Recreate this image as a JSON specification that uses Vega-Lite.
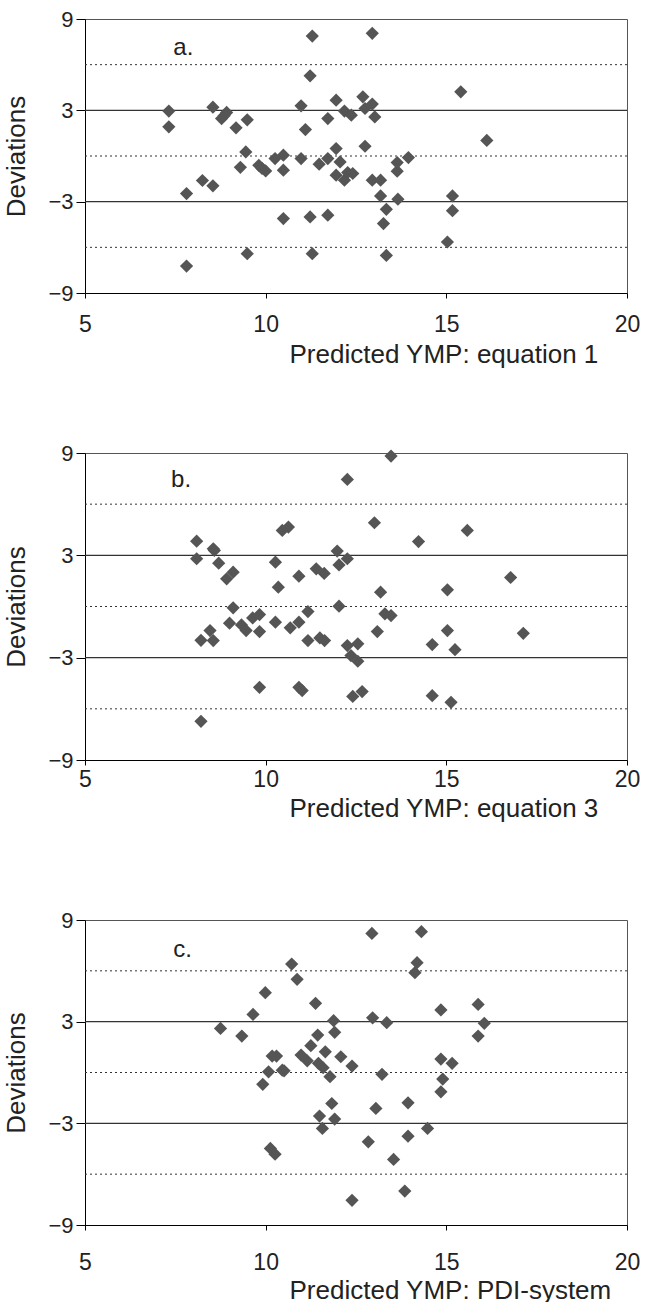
{
  "$schema": "https://vega.github.io/schema/vega-lite/v6.json",
  "padding": {"left": 3, "top": 7, "right": 0, "bottom": 0},
  "config": {
    "font": "Liberation Sans",
    "view": {"stroke": "#555", "strokeWidth": 1},
    "axis": {"grid": false, "domainColor": "#000", "tickColor": "#000", "labelColor": "#222", "titleColor": "#222", "titleFontWeight": "normal"},
    "axisY": {"tickSize": 9, "labelFontSize": 22, "labelPadding": 3, "labelFlush": false, "titleFontSize": 26, "titlePadding": 18},
    "axisX": {"tickSize": 5, "labelFontSize": 23, "labelFlush": false, "titleFontSize": 26, "titleAnchor": "start", "titleAlign": "left", "titleX": 204, "titleBaseline": "middle"}
  },
  "datasets": {
    "a": [
      {"p": 7.32, "d": 2.95}, {"p": 7.32, "d": 1.92}, {"p": 7.81, "d": -2.47}, {"p": 7.81, "d": -7.23},
      {"p": 8.25, "d": -1.61}, {"p": 8.54, "d": 3.21}, {"p": 8.54, "d": -1.96}, {"p": 8.78, "d": 2.46},
      {"p": 8.92, "d": 2.86}, {"p": 8.85, "d": 2.65}, {"p": 9.18, "d": 1.85}, {"p": 9.49, "d": 2.38},
      {"p": 9.45, "d": 0.27}, {"p": 9.30, "d": -0.74}, {"p": 9.49, "d": -6.42}, {"p": 9.81, "d": -0.61},
      {"p": 9.90, "d": -0.82}, {"p": 10.0, "d": -0.98}, {"p": 10.26, "d": -0.17}, {"p": 10.49, "d": 0.05},
      {"p": 10.49, "d": -0.93}, {"p": 10.49, "d": -4.11}, {"p": 10.98, "d": 3.30}, {"p": 10.98, "d": -0.17},
      {"p": 11.10, "d": 1.74}, {"p": 11.23, "d": 5.27}, {"p": 11.29, "d": 7.88}, {"p": 11.23, "d": -4.0},
      {"p": 11.29, "d": -6.42}, {"p": 11.48, "d": -0.54}, {"p": 11.72, "d": 2.46}, {"p": 11.72, "d": -0.17},
      {"p": 11.72, "d": -3.89}, {"p": 11.95, "d": 3.67}, {"p": 11.95, "d": 0.49}, {"p": 11.95, "d": -1.26},
      {"p": 12.06, "d": -0.39}, {"p": 12.18, "d": 2.95}, {"p": 12.18, "d": -1.59}, {"p": 12.27, "d": -1.09},
      {"p": 12.37, "d": 2.68}, {"p": 12.41, "d": -1.15}, {"p": 12.69, "d": 3.89}, {"p": 12.75, "d": 3.12},
      {"p": 12.75, "d": 0.64}, {"p": 12.95, "d": 3.41}, {"p": 12.95, "d": 8.06}, {"p": 12.95, "d": -1.59},
      {"p": 13.02, "d": 2.57}, {"p": 13.18, "d": -1.59}, {"p": 13.18, "d": -2.62}, {"p": 13.34, "d": -3.5},
      {"p": 13.26, "d": -4.44}, {"p": 13.34, "d": -6.53}, {"p": 13.64, "d": -0.43}, {"p": 13.64, "d": -1.0},
      {"p": 13.66, "d": -2.84}, {"p": 13.95, "d": -0.10}, {"p": 15.03, "d": -5.65}, {"p": 15.17, "d": -2.62},
      {"p": 15.17, "d": -3.59}, {"p": 15.4, "d": 4.22}, {"p": 16.12, "d": 1.02}
    ],
    "b": [
      {"p": 8.09, "d": 3.83}, {"p": 8.09, "d": 2.80}, {"p": 8.21, "d": -1.98}, {"p": 8.21, "d": -6.73},
      {"p": 8.46, "d": -1.41}, {"p": 8.55, "d": -2.0}, {"p": 8.55, "d": 3.38}, {"p": 8.58, "d": 3.29},
      {"p": 8.70, "d": 2.54}, {"p": 8.92, "d": 1.62}, {"p": 9.10, "d": 2.01}, {"p": 9.10, "d": -0.08},
      {"p": 9.0, "d": -0.98}, {"p": 9.33, "d": -1.08}, {"p": 9.46, "d": -1.41}, {"p": 9.64, "d": -0.67},
      {"p": 9.83, "d": -0.47}, {"p": 9.83, "d": -1.47}, {"p": 9.83, "d": -4.74}, {"p": 10.27, "d": 2.60},
      {"p": 10.35, "d": 1.13}, {"p": 10.27, "d": -0.92}, {"p": 10.46, "d": 4.46}, {"p": 10.63, "d": 4.66},
      {"p": 10.68, "d": -1.25}, {"p": 10.92, "d": 1.78}, {"p": 10.92, "d": -0.92}, {"p": 10.92, "d": -4.74},
      {"p": 11.01, "d": -4.93}, {"p": 11.17, "d": -0.30}, {"p": 11.17, "d": -2.0}, {"p": 11.4, "d": 2.21},
      {"p": 11.5, "d": -1.84}, {"p": 11.63, "d": -2.0}, {"p": 11.62, "d": 1.94}, {"p": 11.98, "d": 3.25},
      {"p": 12.03, "d": 2.44}, {"p": 12.03, "d": 0.02}, {"p": 12.26, "d": 7.45}, {"p": 12.26, "d": 2.80},
      {"p": 12.26, "d": -2.29}, {"p": 12.36, "d": -2.88}, {"p": 12.55, "d": -2.19}, {"p": 12.55, "d": -3.21},
      {"p": 12.41, "d": -5.27}, {"p": 12.67, "d": -4.99}, {"p": 13.01, "d": 4.91}, {"p": 13.09, "d": -1.47},
      {"p": 13.18, "d": 0.84}, {"p": 13.30, "d": -0.43}, {"p": 13.47, "d": -0.53}, {"p": 13.47, "d": 8.82},
      {"p": 14.23, "d": 3.81}, {"p": 14.61, "d": -2.23}, {"p": 14.61, "d": -5.23}, {"p": 15.03, "d": 0.98},
      {"p": 15.03, "d": -1.41}, {"p": 15.13, "d": -5.62}, {"p": 15.24, "d": -2.53}, {"p": 15.58, "d": 4.46},
      {"p": 16.78, "d": 1.70}, {"p": 17.13, "d": -1.57}
    ],
    "c": [
      {"p": 8.75, "d": 2.60}, {"p": 9.34, "d": 2.15}, {"p": 9.65, "d": 3.43}, {"p": 9.99, "d": 4.71},
      {"p": 9.92, "d": -0.70}, {"p": 10.08, "d": 0.04}, {"p": 10.18, "d": 0.97}, {"p": 10.30, "d": 0.97},
      {"p": 10.13, "d": -4.48}, {"p": 10.26, "d": -4.82}, {"p": 10.46, "d": 0.14}, {"p": 10.51, "d": 0.10},
      {"p": 10.72, "d": 6.40}, {"p": 10.87, "d": 5.50}, {"p": 10.98, "d": 1.03}, {"p": 11.15, "d": 0.69},
      {"p": 11.25, "d": 1.58}, {"p": 11.38, "d": 4.08}, {"p": 11.44, "d": 2.21}, {"p": 11.46, "d": 0.54},
      {"p": 11.59, "d": 0.28}, {"p": 11.65, "d": 1.22}, {"p": 11.78, "d": -0.25}, {"p": 11.88, "d": 3.06},
      {"p": 11.91, "d": 2.37}, {"p": 11.83, "d": -1.83}, {"p": 11.49, "d": -2.57}, {"p": 11.91, "d": -2.75},
      {"p": 11.57, "d": -3.30}, {"p": 12.08, "d": 0.93}, {"p": 12.39, "d": 0.38}, {"p": 12.39, "d": -7.54},
      {"p": 12.84, "d": -4.09}, {"p": 12.94, "d": 8.21}, {"p": 12.96, "d": 3.23}, {"p": 13.05, "d": -2.12},
      {"p": 13.22, "d": -0.11}, {"p": 13.35, "d": 2.94}, {"p": 13.54, "d": -5.13}, {"p": 13.85, "d": -7.0},
      {"p": 13.94, "d": -1.79}, {"p": 13.94, "d": -3.76}, {"p": 14.13, "d": 5.89}, {"p": 14.19, "d": 6.48},
      {"p": 14.31, "d": 8.31}, {"p": 14.48, "d": -3.30}, {"p": 14.85, "d": 3.69}, {"p": 14.85, "d": 0.79},
      {"p": 14.90, "d": -0.39}, {"p": 14.85, "d": -1.14}, {"p": 15.16, "d": 0.54}, {"p": 15.88, "d": 4.02},
      {"p": 15.88, "d": 2.15}, {"p": 16.05, "d": 2.90}
    ]
  },
  "vconcat": [
    {
      "width": 542, "height": 274,
      "encoding": {
        "x": {"field": "p", "type": "quantitative", "scale": {"domain": [5, 20], "nice": false}, "axis": {"values": [5, 10, 15, 20], "labelPadding": 15, "titleY": 61}, "title": "Predicted YMP: equation 1"},
        "y": {"field": "d", "type": "quantitative", "scale": {"domain": [-9, 9], "nice": false}, "axis": {"values": [-9, -3, 3, 9]}, "title": "Deviations"}
      },
      "layer": [
        {"data": {"values": [{"d": 6}, {"d": 0}, {"d": -6}]}, "mark": {"type": "rule", "strokeDash": [2, 3], "color": "#333", "strokeWidth": 1},
         "encoding": {"x": {"value": 0}, "x2": {"value": 542}}},
        {"data": {"values": [{"d": 3}, {"d": -3}]}, "mark": {"type": "rule", "color": "#333", "strokeWidth": 1.2},
         "encoding": {"x": {"value": 0}, "x2": {"value": 542}}},
        {"data": {"name": "a"}, "mark": {"type": "point", "shape": "diamond", "filled": true, "color": "#555", "size": 175, "opacity": 1}},
        {"data": {"values": [{"t": "a.", "p": 7.72, "d": 7.07}]}, "mark": {"type": "text", "fontSize": 24, "color": "#222", "align": "center", "baseline": "middle"},
         "encoding": {"text": {"field": "t"}}}
      ]
    },
    {
      "width": 542, "height": 307,
      "encoding": {
        "x": {"field": "p", "type": "quantitative", "scale": {"domain": [5, 20], "nice": false}, "axis": {"values": [5, 10, 15, 20], "labelPadding": 3, "titleY": 48}, "title": "Predicted YMP: equation 3"},
        "y": {"field": "d", "type": "quantitative", "scale": {"domain": [-9, 9], "nice": false}, "axis": {"values": [-9, -3, 3, 9]}, "title": "Deviations"}
      },
      "layer": [
        {"data": {"values": [{"d": 6}, {"d": 0}, {"d": -6}]}, "mark": {"type": "rule", "strokeDash": [2, 3], "color": "#333", "strokeWidth": 1},
         "encoding": {"x": {"value": 0}, "x2": {"value": 542}}},
        {"data": {"values": [{"d": 3}, {"d": -3}]}, "mark": {"type": "rule", "color": "#333", "strokeWidth": 1.2},
         "encoding": {"x": {"value": 0}, "x2": {"value": 542}}},
        {"data": {"name": "b"}, "mark": {"type": "point", "shape": "diamond", "filled": true, "color": "#555", "size": 175, "opacity": 1}},
        {"data": {"values": [{"t": "b.", "p": 7.66, "d": 7.4}]}, "mark": {"type": "text", "fontSize": 24, "color": "#222", "align": "center", "baseline": "middle"},
         "encoding": {"text": {"field": "t"}}}
      ]
    },
    {
      "width": 542, "height": 305,
      "encoding": {
        "x": {"field": "p", "type": "quantitative", "scale": {"domain": [5, 20], "nice": false}, "axis": {"values": [5, 10, 15, 20], "labelPadding": 21, "titleY": 65}, "title": "Predicted YMP: PDI-system"},
        "y": {"field": "d", "type": "quantitative", "scale": {"domain": [-9, 9], "nice": false}, "axis": {"values": [-9, -3, 3, 9]}, "title": "Deviations"}
      },
      "layer": [
        {"data": {"values": [{"d": 6}, {"d": 0}, {"d": -6}]}, "mark": {"type": "rule", "strokeDash": [2, 3], "color": "#333", "strokeWidth": 1},
         "encoding": {"x": {"value": 0}, "x2": {"value": 542}}},
        {"data": {"values": [{"d": 3}, {"d": -3}]}, "mark": {"type": "rule", "color": "#333", "strokeWidth": 1.2},
         "encoding": {"x": {"value": 0}, "x2": {"value": 542}}},
        {"data": {"name": "c"}, "mark": {"type": "point", "shape": "diamond", "filled": true, "color": "#555", "size": 175, "opacity": 1}},
        {"data": {"values": [{"t": "c.", "p": 7.7, "d": 7.23}]}, "mark": {"type": "text", "fontSize": 24, "color": "#222", "align": "center", "baseline": "middle"},
         "encoding": {"text": {"field": "t"}}}
      ]
    }
  ],
  "bounds": "flush",
  "spacing": 160
}
